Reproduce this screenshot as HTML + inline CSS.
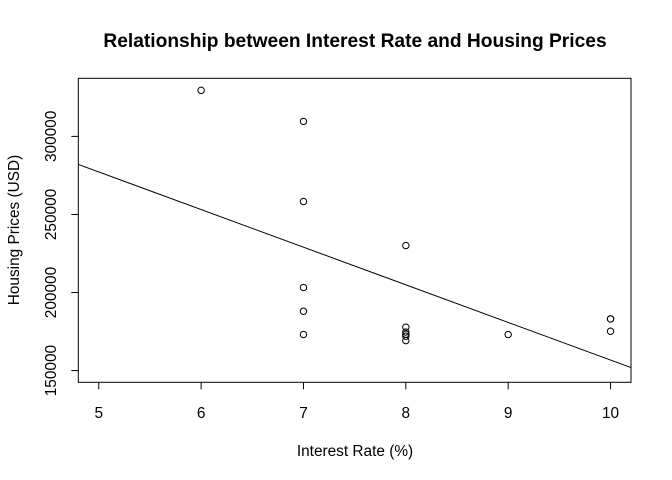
<!DOCTYPE html>
<html><head><meta charset="utf-8"><style>
body{margin:0;background:#fff;}
svg{display:block;font-family:"Liberation Sans",Arial,sans-serif;}
</style></head><body>
<svg id="chart" width="672" height="480" viewBox="0 0 672 480">
<rect width="672" height="480" fill="#fff"/>
<text x="355" y="47" text-anchor="middle" font-weight="bold" font-size="19.2">Relationship between Interest Rate and Housing Prices</text>
<text x="355" y="456" text-anchor="middle" font-size="15.4">Interest Rate (%)</text>
<text transform="translate(19,230) rotate(-90)" text-anchor="middle" font-size="15.4">Housing Prices (USD)</text>
<g id="axes"></g>
<g id="marks"></g>
<rect x="78.3" y="78.3" width="552.7" height="304" fill="none" stroke="#000" stroke-width="1"/>
</svg>
<script>
const rates = [6,7,7,7,7,7,8,8,8,8,8,8,9,10,10,10];
const prices = [329500,309600,258300,203200,188000,173100,230100,177800,174700,173300,172000,169200,173100,183100,183100,175200];
const xTicks = [5,6,7,8,9,10];
const yTicks = [150000,200000,250000,300000];
const fitCoef = [397720,-24098];
const xDomain=[4.8,10.2], yDomain=[142500,337200];
const L=78.3,R=631,T=78.3,B=382.3;
function sx(v){return L+(v-xDomain[0])/(xDomain[1]-xDomain[0])*(R-L);}
function sy(v){return B-(v-yDomain[0])/(yDomain[1]-yDomain[0])*(B-T);}
const NS='http://www.w3.org/2000/svg';
const axes=document.getElementById('axes'), marks=document.getElementById('marks');
function mk(tag,attrs,parent){const e=document.createElementNS(NS,tag);for(const k in attrs)e.setAttribute(k,attrs[k]);parent.appendChild(e);return e;}
xTicks.forEach(t=>{
  const l=mk('line',{x1:sx(t),x2:sx(t),y1:B,y2:B+7,stroke:'#000'},axes);
  
  
  const tx=mk('text',{x:sx(t),y:418,'text-anchor':'middle','font-size':'15.4'},axes);
  tx.textContent=t;
  
  
});
yTicks.forEach(t=>{
  const l=mk('line',{x1:L-7,x2:L,y1:sy(t),y2:sy(t),stroke:'#000'},axes);
  
  
  const tx=mk('text',{transform:`translate(56,${sy(t)}) rotate(-90)`,'text-anchor':'middle','font-size':'15.4'},axes);
  tx.textContent=t;
  
  
});
rates.forEach((r,i)=>{
  const c=mk('circle',{cx:sx(r),cy:sy(prices[i]),r:3.2,fill:'none',stroke:'#000','stroke-width':1},marks);
  
  
});
const ln=mk('line',{x1:sx(xDomain[0]),y1:sy(fitCoef[0]+fitCoef[1]*xDomain[0]),x2:sx(xDomain[1]),y2:sy(fitCoef[0]+fitCoef[1]*xDomain[1]),stroke:'#000','stroke-width':1},marks);


</script>
</body></html>
